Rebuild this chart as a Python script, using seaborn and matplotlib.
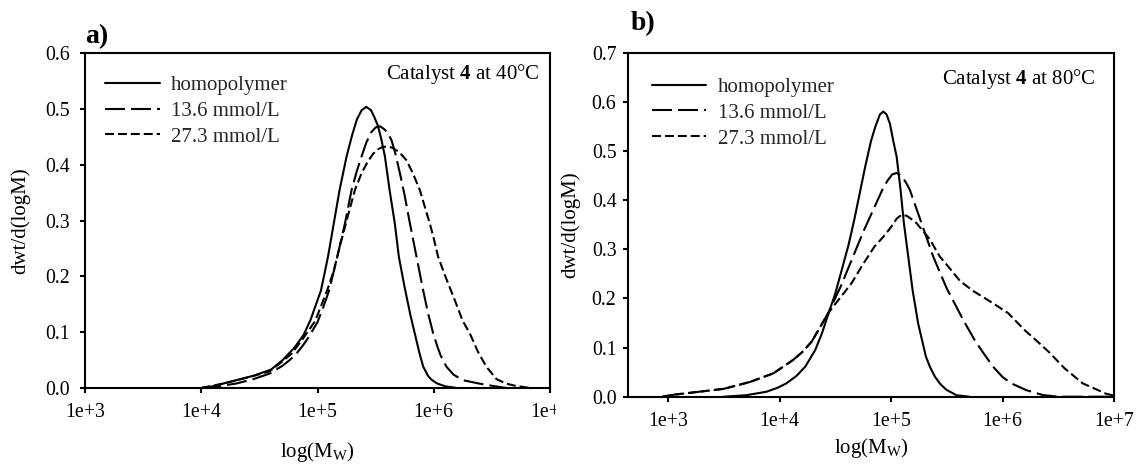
import numpy as np
import pandas as pd
import matplotlib
matplotlib.use("Agg")
import matplotlib.pyplot as plt
import seaborn as sns
from matplotlib.transforms import Bbox, TransformedBbox
from matplotlib.ticker import FixedLocator, FixedFormatter, NullLocator

# ---------------- data ----------------
series_labels = ["homopolymer", "13.6 mmol/L", "27.3 mmol/L"]
tick_values = [1e3, 1e4, 1e5, 1e6, 1e7]
tick_labels = ["1e+3", "1e+4", "1e+5", "1e+6", "1e+7"]

# panel a (40 °C): log10(M) and dwt/d(logM)
a_homo_logM = [4.0, 4.1, 4.19, 4.45, 4.6, 4.7, 4.8, 4.88, 4.94, 5.03, 5.09, 5.14, 5.19, 5.25,
               5.30, 5.34, 5.38, 5.42, 5.46, 5.49, 5.52, 5.55, 5.58, 5.62, 5.665, 5.70, 5.75,
               5.80, 5.84, 5.88, 5.91, 5.95, 5.98, 6.03, 6.1, 6.2]
a_homo_y = [0.0, 0.003, 0.008, 0.022, 0.033, 0.05, 0.072, 0.095, 0.122, 0.175, 0.235, 0.295,
            0.355, 0.415, 0.455, 0.482, 0.498, 0.504, 0.498, 0.485, 0.47, 0.445, 0.415, 0.355,
            0.295, 0.235, 0.18, 0.13, 0.095, 0.06, 0.038, 0.022, 0.015, 0.008, 0.003, 0.0]

a_136_logM = [4.0, 4.15, 4.3, 4.45, 4.59, 4.7, 4.76, 4.82, 4.87, 4.92, 5.0, 5.05, 5.1, 5.17,
              5.236, 5.293, 5.34, 5.379, 5.42, 5.46, 5.50, 5.54, 5.58, 5.61, 5.637, 5.67,
              5.709, 5.75, 5.795, 5.852, 5.909, 5.95, 5.995, 6.03, 6.06, 6.11, 6.17, 6.25,
              6.39, 6.5, 6.625]
a_136_y = [0.0, 0.003, 0.008, 0.016, 0.026, 0.04, 0.05, 0.062, 0.075, 0.09, 0.118, 0.145,
           0.175, 0.235, 0.295, 0.355, 0.39, 0.415, 0.44, 0.458, 0.467, 0.469, 0.463, 0.455,
           0.444, 0.42, 0.385, 0.345, 0.295, 0.235, 0.175, 0.135, 0.098, 0.075, 0.058, 0.038,
           0.024, 0.014, 0.008, 0.004, 0.0]

a_273_logM = [4.0, 4.19, 4.42, 4.59, 4.7, 4.78, 4.88, 4.98, 5.083, 5.14, 5.187, 5.25, 5.322,
              5.379, 5.43, 5.479, 5.52, 5.56, 5.6, 5.64, 5.68, 5.72, 5.766, 5.82, 5.88, 5.92,
              5.966, 6.0, 6.038, 6.1, 6.18, 6.25, 6.31, 6.38, 6.453, 6.54, 6.62, 6.7, 6.83]
a_273_y = [0.0, 0.008, 0.02, 0.03, 0.048, 0.062, 0.09, 0.12, 0.175, 0.21, 0.25, 0.30, 0.355,
           0.385, 0.405, 0.42, 0.428, 0.432, 0.433, 0.431, 0.426, 0.419, 0.408, 0.385, 0.355,
           0.327, 0.295, 0.268, 0.235, 0.2, 0.158, 0.12, 0.098, 0.065, 0.038, 0.016, 0.008,
           0.004, 0.0]

# panel b (80 °C)
b_homo_logM = [3.5, 3.7, 3.88, 3.98, 4.06, 4.15, 4.23, 4.32, 4.38, 4.44, 4.50, 4.56, 4.62,
               4.67, 4.72, 4.77, 4.82, 4.86, 4.90, 4.93, 4.96, 4.99, 5.02, 5.05, 5.085, 5.115,
               5.154, 5.193, 5.243, 5.312, 5.35, 5.393, 5.44, 5.497, 5.587, 5.7]
b_homo_y = [0.0, 0.003, 0.01, 0.018, 0.027, 0.042, 0.061, 0.095, 0.129, 0.17, 0.21, 0.26, 0.31,
            0.36, 0.415, 0.47, 0.52, 0.55, 0.574, 0.58, 0.574, 0.555, 0.52, 0.488, 0.421, 0.353,
            0.285, 0.217, 0.149, 0.082, 0.06, 0.041, 0.026, 0.014, 0.003, 0.0]

b_136_logM = [2.95, 3.05, 3.5, 3.735, 3.944, 4.123, 4.2, 4.288, 4.436, 4.55, 4.65, 4.75, 4.85,
              4.93, 4.97, 5.01, 5.049, 5.09, 5.13, 5.168, 5.273, 5.378, 5.5, 5.65, 5.75, 5.825,
              5.915, 6.0, 6.08, 6.21, 6.36, 6.5, 7.0]
b_136_y = [0.0, 0.004, 0.016, 0.03, 0.0475, 0.075, 0.09, 0.112, 0.17, 0.225, 0.28, 0.335,
           0.385, 0.425, 0.44, 0.452, 0.455, 0.45, 0.437, 0.421, 0.353, 0.285, 0.22, 0.155,
           0.115, 0.09, 0.061, 0.04, 0.027, 0.0136, 0.0034, 0.0, 0.0]

b_273_logM = [2.95, 3.05, 3.5, 3.735, 3.944, 4.123, 4.2, 4.288, 4.436, 4.646, 4.75, 4.85, 4.93,
              5.0, 5.05, 5.094, 5.14, 5.19, 5.228, 5.348, 5.437, 5.53, 5.62, 5.737, 5.915,
              6.05, 6.2, 6.3, 6.42, 6.555, 6.72, 6.93, 7.0]
b_273_y = [0.0, 0.004, 0.016, 0.03, 0.0475, 0.075, 0.09, 0.112, 0.17, 0.231, 0.27, 0.305,
           0.325, 0.345, 0.362, 0.37, 0.368, 0.36, 0.353, 0.32, 0.285, 0.26, 0.235, 0.215,
           0.19, 0.17, 0.135, 0.115, 0.09, 0.058, 0.027, 0.006, 0.002]

panel_a = [(a_homo_logM, a_homo_y), (a_136_logM, a_136_y), (a_273_logM, a_273_y)]
panel_b = [(b_homo_logM, b_homo_y), (b_136_logM, b_136_y), (b_273_logM, b_273_y)]

# ---------------- style ----------------
sns.set_theme(style="ticks")
plt.rcParams["font.family"] = ["Liberation Serif", "DejaVu Serif"]
plt.rcParams["mathtext.fontset"] = "custom"
plt.rcParams["mathtext.rm"] = "Liberation Serif"
plt.rcParams["mathtext.it"] = "Liberation Serif:italic"
plt.rcParams["mathtext.bf"] = "Liberation Serif:bold"
plt.rcParams["font.size"] = 14

FS_TICK = 14.3
FS_TXT = 15
LW = 1.5
line_styles = ["-", (0, (9.6, 2.9)), (0, (4.3, 1.9))]

W, H = 1137, 468
fig = plt.figure(figsize=(W / 100, H / 100), dpi=100)
fig.patch.set_facecolor("white")


def px_axes(l, r, t, b):
    return fig.add_axes([l / W, (H - b) / H, (r - l) / W, (b - t) / H])


ax_a = px_axes(85, 550, 53.3, 388)
ax_b = px_axes(628, 1114, 52.5, 396.7)

configs = [
    (ax_a, panel_a, 0.6, np.arange(0, 0.61, 0.1), (1e3, 1e7), "Catalyst $\\mathbf{4}$ at 40°C",
     (0.044, 0.934), (0.978, 0.938), 13, 7.5, 11),
    (ax_b, panel_b, 0.7, np.arange(0, 0.71, 0.1), (10 ** 2.64, 1e7), "Catalyst $\\mathbf{4}$ at 80°C",
     (0.05, 0.928), (0.963, 0.923), 4, 5, 8),
]

for ax, data, ymax, yt, xlim, note, leg_xy, note_xy, xpad, ytpad, ypad in configs:
    ax.set_facecolor("white")
    for (lm, yv), lab, ls in zip(data, series_labels, line_styles):
        sns.lineplot(x=10 ** np.asarray(lm), y=yv, ax=ax, color="black", linewidth=LW,
                     linestyle=ls, label=lab, sort=False, estimator=None)
    ax.set_xscale("log")
    ax.set_xlim(*xlim)
    ax.set_ylim(0, ymax)
    ax.xaxis.set_major_locator(FixedLocator(tick_values))
    ax.xaxis.set_major_formatter(FixedFormatter(tick_labels))
    ax.xaxis.set_minor_locator(NullLocator())
    ax.set_yticks(yt)
    ax.set_yticklabels([f"{v:.1f}" for v in yt])
    for s in ax.spines.values():
        s.set_visible(True)
        s.set_linewidth(LW)
        s.set_color("black")
    ax.tick_params(axis="both", which="major", direction="out", length=3.3, width=LW,
                   color="black", labelsize=FS_TICK, labelcolor="black", pad=7.5)
    ax.tick_params(axis="y", pad=ytpad)
    ax.set_ylabel("dwt/d(logM)", fontsize=FS_TXT, color="black", labelpad=ypad)
    ax.set_xlabel("log(M$_{\\mathrm{W}}$)", fontsize=FS_TXT, color="black", labelpad=xpad)
    ax.grid(False)
    leg = ax.legend(loc="upper left", bbox_to_anchor=leg_xy, frameon=False, fontsize=FS_TXT,
                    handlelength=2.6, handletextpad=0.55, labelspacing=0.3,
                    borderpad=0, borderaxespad=0)
    for h in leg.get_lines():
        h.set_linewidth(LW)
    ax.text(note_xy[0], note_xy[1], note, transform=ax.transAxes, ha="right", va="center",
            fontsize=FS_TXT, color="black")

# panel letters
fig.text(85 / W, 1 - 43 / H, "a)", fontsize=20, fontweight="bold", ha="left",
         va="baseline", color="black")
fig.text(631 / W, 1 - 30 / H, "b)", fontsize=20, fontweight="bold", ha="left",
         va="baseline", color="black")

# the right-most tick label of panel a is cut by the neighbouring panel
last = ax_a.xaxis.get_major_ticks()[-1]
clip = TransformedBbox(Bbox([[0, 0], [556 / W, 1]]), fig.transFigure)
last.label1.set_clip_box(clip)
last.label1.set_clip_on(True)

fig.savefig("out.png", dpi=100, facecolor="white")
